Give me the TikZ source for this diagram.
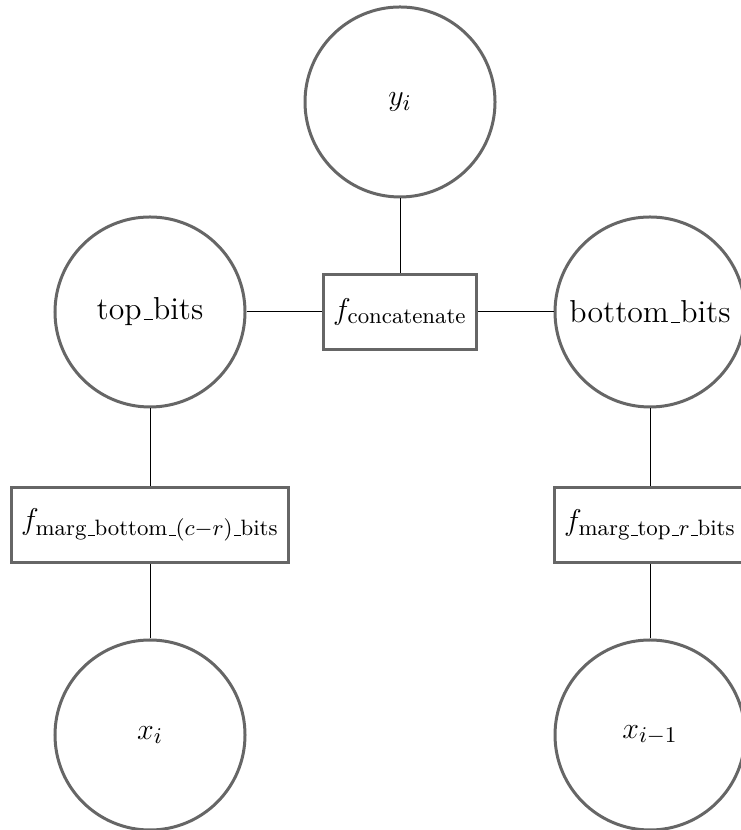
\documentclass[tikz,border=0pt]{standalone}
\usepackage{amsmath}
% classic low, short underscore rule
\newcommand{\lowbar}{\leavevmode\kern.06em\vbox{\hrule width.3em}}
\newcommand{\labelsize}{\fontsize{12.7pt}{15pt}\selectfont}
\begin{document}
\begin{tikzpicture}[x=0.4pt,y=0.4pt,
  var/.style={circle,draw=black!60,line width=1.2pt,minimum size=76pt,inner sep=0pt,font=\labelsize},
  fac/.style={rectangle,draw=black!60,line width=1.2pt,minimum height=30pt,inner xsep=4pt,font=\labelsize},
  edge/.style={draw=black,line width=0.4pt}]
\useasboundingbox (0,0) rectangle (740,830);
% variable nodes
\node[var] (y)  at (400,728) {$y_i$};
\node[var] (tb) at (150,518) {top\lowbar bits};
\node[var] (bb) at (650,518) {bottom\lowbar bits};
\node[var] (xi) at (150,95)  {$x_i$};
\node[var] (xp) at (650,95)  {$x_{i-1}$};
% factor nodes
\node[fac] (fc) at (400,518) {$f_{\text{concatenate}}$};
\node[fac] (fb) at (150,305) {$f_{\text{marg\lowbar bottom\lowbar}(c-r)\text{\lowbar bits}}$};
\node[fac] (ft) at (650,305) {$f_{\text{marg\lowbar top\lowbar}r\text{\lowbar bits}}$};
% edges
\draw[edge] (y) -- (fc);
\draw[edge] (tb) -- (fc);
\draw[edge] (fc) -- (bb);
\draw[edge] (tb) -- (fb);
\draw[edge] (fb) -- (xi);
\draw[edge] (bb) -- (ft);
\draw[edge] (ft) -- (xp);
\end{tikzpicture}
\end{document}
